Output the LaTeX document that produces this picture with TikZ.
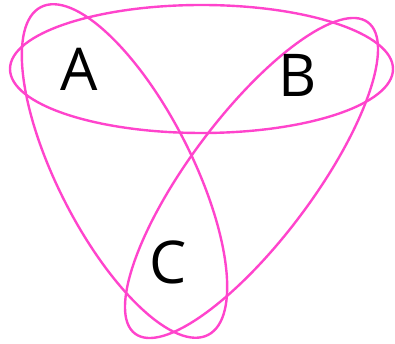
\documentclass[tikz,border=0pt]{standalone}
\usepackage{fontspec}
\setmainfont{Open Sans}
\definecolor{vpink}{RGB}{255,68,204}
\begin{document}
\begin{tikzpicture}[x=1pt,y=1pt,
  setline/.style={draw=vpink,line width=2.4pt},
  setlabel/.style={font=\fontsize{59}{59}\selectfont,anchor=base,inner sep=0pt,text=black}]
\useasboundingbox (0,0) rectangle (395,344);
% horizontal ellipse
\draw[setline] (201.5,275) ellipse [x radius=191.5, y radius=64];
% ellipse from top-left to bottom-right
\draw[setline,rotate around={-63:(124.5,173)}] (124.5,173) ellipse [x radius=184, y radius=67];
% ellipse from top-right to bottom-left
\draw[setline,rotate around={53.2:(251.5,166)}] (251.5,166) ellipse [x radius=194.4, y radius=61.7];
\node[setlabel] (a) at (79,253) {A};
\node[setlabel] (b) at (297.5,247) {B};
\node[setlabel] (c) at (168,60) {C};
\end{tikzpicture}
\end{document}
